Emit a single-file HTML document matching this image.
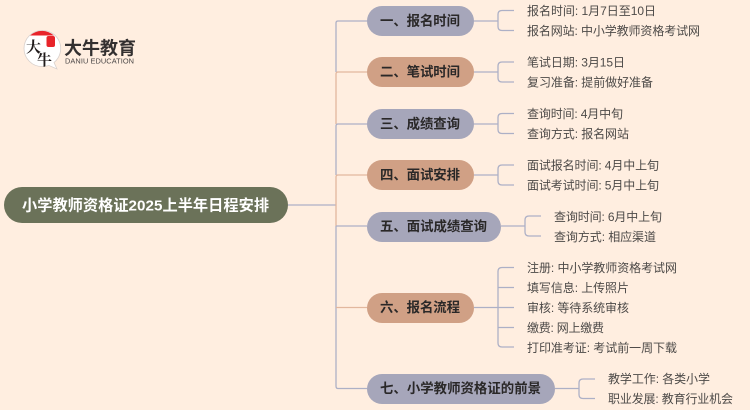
<!DOCTYPE html>
<html lang="zh">
<head>
<meta charset="utf-8">
<style>
html,body{margin:0;padding:0;background:#ffeee0;width:750px;height:410px;overflow:hidden}
svg{display:block;filter:blur(0.35px)}
text{font-family:"Liberation Sans","Noto Sans CJK SC",sans-serif}
.l{font-size:12px;fill:#4d4a48}
.p{font-size:13.4px;font-weight:700;fill:#2a2828}
.b{fill:none;stroke:#adb0c6;stroke-width:1.3}
.o{fill:none;stroke:#e2b79e;stroke-width:1.3}
.s{font-family:"Liberation Serif","Noto Serif CJK SC",serif;font-size:15px;font-weight:700;fill:#1f1a1a}
</style>
</head>
<body>
<svg width="750" height="410" viewBox="0 0 750 410" xmlns="http://www.w3.org/2000/svg">
<rect width="750" height="410" fill="#ffeee0"/>

<!-- trunk -->
<path class="b" d="M288 205H336"/>
<path class="b" d="M367 21H338Q336 21 336 23V72"/>
<path class="o" d="M367 72H338Q336 72 336 74V124"/>
<path class="b" d="M367 124H338Q336 124 336 126V175"/>
<path class="o" d="M367 175H338Q336 175 336 177V226"/>
<path class="b" d="M336 226H367"/>
<path class="b" d="M336 226V386Q336 388.500 338 388.500H367"/>
<path class="o" d="M336 307.500H367"/>

<!-- brackets -->
<path class="b" d="M474 21H498M514 10.500H502Q498 10.500 498 14.500V26.500Q498 30.500 502 30.500H514"/>
<path class="b" d="M474 72H498M514 62H502Q498 62 498 66V78Q498 82 502 82H514"/>
<path class="b" d="M474 124H498M514 113.500H502Q498 113.500 498 117.500V129.500Q498 133.500 502 133.500H514"/>
<path class="b" d="M474 175H498M514 165H502Q498 165 498 169V181Q498 185 502 185H514"/>
<path class="b" d="M501 226H525M541 216H529Q525 216 525 220V232Q525 236 529 236H541"/>
<path class="b" d="M474 307.500H514M514 267.500H502Q498 267.500 498 271.500V343Q498 347 502 347H514M498 287.500H514M498 327.500H514"/>
<path class="b" d="M555 388.500H579M595 379H583Q579 379 579 383V394.500Q579 398.500 583 398.500H595"/>

<!-- root -->
<rect x="4" y="187" width="284" height="36" rx="18" fill="#6b7259"/>
<text x="22" y="210.500" font-size="15.200" font-weight="700" fill="#fff" textLength="247" lengthAdjust="spacing">小学教师资格证2025上半年日程安排</text>

<!-- pills -->
<rect x="367" y="6" width="107" height="30" rx="15" fill="#a6a6ba"/>
<rect x="367" y="57" width="107" height="30" rx="15" fill="#d0a085"/>
<rect x="367" y="109" width="107" height="30" rx="15" fill="#a6a6ba"/>
<rect x="367" y="160" width="107" height="30" rx="15" fill="#d0a085"/>
<rect x="367" y="212" width="134" height="30" rx="15" fill="#a6a6ba"/>
<rect x="367" y="293" width="107" height="30" rx="15" fill="#d0a085"/>
<rect x="367" y="374" width="188" height="30" rx="15" fill="#a6a6ba"/>

<text class="p" x="380" y="25.500" textLength="80">一、报名时间</text>
<text class="p" x="380" y="76.500" textLength="80">二、笔试时间</text>
<text class="p" x="380" y="128.500" textLength="80">三、成绩查询</text>
<text class="p" x="380" y="179.500" textLength="80">四、面试安排</text>
<text class="p" x="380" y="231" textLength="107">五、面试成绩查询</text>
<text class="p" x="380" y="312" textLength="80">六、报名流程</text>
<text class="p" x="380" y="393" textLength="161">七、小学教师资格证的前景</text>

<!-- leaves -->
<text class="l" x="527" y="15" textLength="129">报名时间: 1月7日至10日</text>
<text class="l" x="527" y="35" textLength="173">报名网站: 中小学教师资格考试网</text>
<text class="l" x="527" y="66.500" textLength="98">笔试日期: 3月15日</text>
<text class="l" x="527" y="86.500" textLength="126">复习准备: 提前做好准备</text>
<text class="l" x="527" y="118" textLength="96">查询时间: 4月中旬</text>
<text class="l" x="527" y="138" textLength="102">查询方式: 报名网站</text>
<text class="l" x="527" y="169.500" textLength="132">面试报名时间: 4月中上旬</text>
<text class="l" x="527" y="189.500" textLength="132">面试考试时间: 5月中上旬</text>
<text class="l" x="554" y="221" textLength="108">查询时间: 6月中上旬</text>
<text class="l" x="554" y="241" textLength="102">查询方式: 相应渠道</text>
<text class="l" x="527" y="272" textLength="150">注册: 中小学教师资格考试网</text>
<text class="l" x="527" y="292" textLength="102">填写信息: 上传照片</text>
<text class="l" x="527" y="312" textLength="102">审核: 等待系统审核</text>
<text class="l" x="527" y="332" textLength="77">缴费: 网上缴费</text>
<text class="l" x="527" y="352" textLength="150">打印准考证: 考试前一周下载</text>
<text class="l" x="608" y="383" textLength="102">教学工作: 各类小学</text>
<text class="l" x="608" y="403" textLength="125">职业发展: 教育行业机会</text>

<!-- logo -->
<path d="M42 30.500A18 18 0 0 0 42 66.500Q46 66.500 49 65.500L57 69L54 62.500A18 18 0 0 0 42 30.500Z" fill="#fff" stroke="#d8d0cc" stroke-width="0.800"/>
<path d="M30 35.500A18 18 0 0 1 54 35.500Z" fill="#e8242a"/>
<rect x="46.500" y="36" width="8.500" height="11" rx="2" fill="#e8242a"/>
<text class="s" x="26" y="52">大</text>
<text class="s" x="37" y="65">牛</text>
<text x="64" y="54.500" font-size="18" font-weight="700" fill="#333030" textLength="72">大牛教育</text>
<text x="65" y="63.500" font-size="7.400" fill="#4a4646" textLength="69">DANIU EDUCATION</text>
</svg>
</body>
</html>
